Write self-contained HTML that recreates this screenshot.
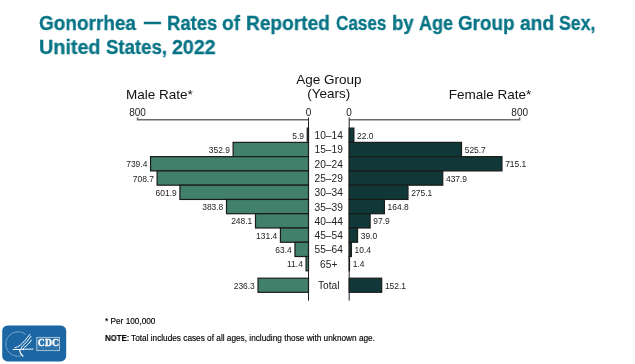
<!DOCTYPE html>
<html><head><meta charset="utf-8"><style>
html,body{margin:0;padding:0;background:#fff;width:635px;height:364px;overflow:hidden;}
body{position:relative;font-family:"Liberation Sans",sans-serif;}
.t{position:absolute;will-change:transform;font-weight:bold;color:#077486;font-size:20px;white-space:nowrap;line-height:22px;transform-origin:0 0;-webkit-text-stroke:0.3px #077486;}
.fn{position:absolute;left:105px;font-size:8.25px;color:#000;-webkit-text-stroke:0.15px #000;white-space:nowrap;line-height:9px;will-change:transform;}
svg{position:absolute;left:0;top:0;will-change:transform;}
</style></head><body>
<div class="t" style="left:38.74px;top:11.9px;transform:scaleX(0.949)">Gonorrhea</div>
<div class="t" style="left:143.7px;top:10.1px;transform:scaleX(0.84);-webkit-text-stroke:0.45px #077486">—</div>
<div class="t" style="left:167.25px;top:11.9px;transform:scaleX(0.924)">Rates</div>
<div class="t" style="left:222.44px;top:11.9px;transform:scaleX(0.956)">of</div>
<div class="t" style="left:246.21px;top:11.9px;transform:scaleX(0.955)">Reported</div>
<div class="t" style="left:335.92px;top:11.9px;transform:scaleX(0.855)">Cases</div>
<div class="t" style="left:391.89px;top:11.9px;transform:scaleX(0.927)">by</div>
<div class="t" style="left:418.75px;top:11.9px;transform:scaleX(0.899)">Age</div>
<div class="t" style="left:457.75px;top:11.9px;transform:scaleX(0.942)">Group</div>
<div class="t" style="left:519.82px;top:11.9px;transform:scaleX(0.963)">and</div>
<div class="t" style="left:559.47px;top:11.9px;transform:scaleX(0.885)">Sex,</div>
<div class="t" style="left:39.01px;top:35.6px;transform:scaleX(0.988)">United</div>
<div class="t" style="left:105.54px;top:35.6px;transform:scaleX(0.930)">States,</div>
<div class="t" style="left:171.71px;top:35.6px;transform:scaleX(0.983)">2022</div>
<svg width="635" height="364" viewBox="0 0 635 364" font-family="Liberation Sans, sans-serif" fill="#222">
<text x="126" y="99.3" font-size="13.5" fill="#111">Male Rate*</text>
<text x="531.3" y="98.9" font-size="13.5" text-anchor="end" fill="#111">Female Rate*</text>
<text x="328.8" y="84.1" font-size="13.5" text-anchor="middle" fill="#111">Age Group</text>
<text x="328.8" y="98.3" font-size="13.5" text-anchor="middle" fill="#111">(Years)</text>
<text x="137.6" y="115.8" font-size="10" text-anchor="middle" fill="#222">800</text>
<text x="308.5" y="115.8" font-size="10" text-anchor="middle" fill="#222">0</text>
<text x="349.0" y="115.8" font-size="10" text-anchor="middle" fill="#222">0</text>
<text x="519.7" y="115.8" font-size="10" text-anchor="middle" fill="#222">800</text>
<path d="M137.6 117.6 V119.8 H308.5 M349.2 119.8 H519.6 V117.6" stroke="#6a6a6a" stroke-width="1.6" fill="none"/>
<path d="M308.5 117.5 V300.7 M349.2 117.5 V300.7" stroke="#222" stroke-width="1" fill="none"/>
<rect x="307.24" y="128.10" width="1.26" height="14.27" fill="#41806a" stroke="#1a1a1a" stroke-width="1.2"/>
<rect x="349.20" y="128.10" width="4.70" height="14.27" fill="#113838" stroke="#1a1a1a" stroke-width="1.2"/>
<rect x="233.11" y="142.37" width="75.39" height="14.27" fill="#41806a" stroke="#1a1a1a" stroke-width="1.2"/>
<rect x="349.20" y="142.37" width="112.30" height="14.27" fill="#113838" stroke="#1a1a1a" stroke-width="1.2"/>
<rect x="150.55" y="156.64" width="157.95" height="14.27" fill="#41806a" stroke="#1a1a1a" stroke-width="1.2"/>
<rect x="349.20" y="156.64" width="152.76" height="14.27" fill="#113838" stroke="#1a1a1a" stroke-width="1.2"/>
<rect x="157.10" y="170.91" width="151.40" height="14.27" fill="#41806a" stroke="#1a1a1a" stroke-width="1.2"/>
<rect x="349.20" y="170.91" width="93.55" height="14.27" fill="#113838" stroke="#1a1a1a" stroke-width="1.2"/>
<rect x="179.92" y="185.18" width="128.58" height="14.27" fill="#41806a" stroke="#1a1a1a" stroke-width="1.2"/>
<rect x="349.20" y="185.18" width="58.77" height="14.27" fill="#113838" stroke="#1a1a1a" stroke-width="1.2"/>
<rect x="226.51" y="199.45" width="81.99" height="14.27" fill="#41806a" stroke="#1a1a1a" stroke-width="1.2"/>
<rect x="349.20" y="199.45" width="35.21" height="14.27" fill="#113838" stroke="#1a1a1a" stroke-width="1.2"/>
<rect x="255.50" y="213.72" width="53.00" height="14.27" fill="#41806a" stroke="#1a1a1a" stroke-width="1.2"/>
<rect x="349.20" y="213.72" width="20.91" height="14.27" fill="#113838" stroke="#1a1a1a" stroke-width="1.2"/>
<rect x="280.43" y="227.99" width="28.07" height="14.27" fill="#41806a" stroke="#1a1a1a" stroke-width="1.2"/>
<rect x="349.20" y="227.99" width="8.33" height="14.27" fill="#113838" stroke="#1a1a1a" stroke-width="1.2"/>
<rect x="294.96" y="242.26" width="13.54" height="14.27" fill="#41806a" stroke="#1a1a1a" stroke-width="1.2"/>
<rect x="349.20" y="242.26" width="2.22" height="14.27" fill="#113838" stroke="#1a1a1a" stroke-width="1.2"/>
<rect x="306.06" y="256.53" width="2.44" height="14.27" fill="#41806a" stroke="#1a1a1a" stroke-width="1.2"/>
<rect x="349.20" y="256.53" width="0.30" height="14.27" fill="#113838" stroke="#1a1a1a" stroke-width="1.2"/>
<rect x="258.02" y="278.20" width="50.48" height="14.10" fill="#41806a" stroke="#1a1a1a" stroke-width="1.2"/>
<rect x="349.20" y="278.20" width="32.49" height="14.10" fill="#113838" stroke="#1a1a1a" stroke-width="1.2"/>
<text x="0" y="138.83" text-anchor="end" font-size="9.6" transform="translate(304.04 0) scale(0.88 1)">5.9</text>
<text x="0" y="138.83" font-size="9.6" transform="translate(357.10 0) scale(0.88 1)">22.0</text>
<text x="0" y="139.23" text-anchor="middle" font-size="10.5" transform="translate(328.7 0) scale(0.97 1)">10–14</text>
<text x="0" y="153.10" text-anchor="end" font-size="9.6" transform="translate(229.91 0) scale(0.88 1)">352.9</text>
<text x="0" y="153.10" font-size="9.6" transform="translate(464.70 0) scale(0.88 1)">525.7</text>
<text x="0" y="153.50" text-anchor="middle" font-size="10.5" transform="translate(328.7 0) scale(0.97 1)">15–19</text>
<text x="0" y="167.37" text-anchor="end" font-size="9.6" transform="translate(147.35 0) scale(0.88 1)">739.4</text>
<text x="0" y="167.37" font-size="9.6" transform="translate(505.16 0) scale(0.88 1)">715.1</text>
<text x="0" y="167.77" text-anchor="middle" font-size="10.5" transform="translate(328.7 0) scale(0.97 1)">20–24</text>
<text x="0" y="181.64" text-anchor="end" font-size="9.6" transform="translate(153.90 0) scale(0.88 1)">708.7</text>
<text x="0" y="181.64" font-size="9.6" transform="translate(445.95 0) scale(0.88 1)">437.9</text>
<text x="0" y="182.04" text-anchor="middle" font-size="10.5" transform="translate(328.7 0) scale(0.97 1)">25–29</text>
<text x="0" y="195.91" text-anchor="end" font-size="9.6" transform="translate(176.72 0) scale(0.88 1)">601.9</text>
<text x="0" y="195.91" font-size="9.6" transform="translate(411.17 0) scale(0.88 1)">275.1</text>
<text x="0" y="196.31" text-anchor="middle" font-size="10.5" transform="translate(328.7 0) scale(0.97 1)">30–34</text>
<text x="0" y="210.18" text-anchor="end" font-size="9.6" transform="translate(223.31 0) scale(0.88 1)">383.8</text>
<text x="0" y="210.18" font-size="9.6" transform="translate(387.61 0) scale(0.88 1)">164.8</text>
<text x="0" y="210.58" text-anchor="middle" font-size="10.5" transform="translate(328.7 0) scale(0.97 1)">35–39</text>
<text x="0" y="224.45" text-anchor="end" font-size="9.6" transform="translate(252.30 0) scale(0.88 1)">248.1</text>
<text x="0" y="224.45" font-size="9.6" transform="translate(373.31 0) scale(0.88 1)">97.9</text>
<text x="0" y="224.85" text-anchor="middle" font-size="10.5" transform="translate(328.7 0) scale(0.97 1)">40–44</text>
<text x="0" y="238.72" text-anchor="end" font-size="9.6" transform="translate(277.23 0) scale(0.88 1)">131.4</text>
<text x="0" y="238.72" font-size="9.6" transform="translate(360.73 0) scale(0.88 1)">39.0</text>
<text x="0" y="239.12" text-anchor="middle" font-size="10.5" transform="translate(328.7 0) scale(0.97 1)">45–54</text>
<text x="0" y="252.99" text-anchor="end" font-size="9.6" transform="translate(291.76 0) scale(0.88 1)">63.4</text>
<text x="0" y="252.99" font-size="9.6" transform="translate(354.62 0) scale(0.88 1)">10.4</text>
<text x="0" y="253.39" text-anchor="middle" font-size="10.5" transform="translate(328.7 0) scale(0.97 1)">55–64</text>
<text x="0" y="267.26" text-anchor="end" font-size="9.6" transform="translate(302.86 0) scale(0.88 1)">11.4</text>
<text x="0" y="267.26" font-size="9.6" transform="translate(352.70 0) scale(0.88 1)">1.4</text>
<text x="0" y="267.66" text-anchor="middle" font-size="10.5" transform="translate(328.7 0) scale(0.97 1)">65+</text>
<text x="0" y="288.85" text-anchor="end" font-size="9.6" transform="translate(254.82 0) scale(0.88 1)">236.3</text>
<text x="0" y="288.85" font-size="9.6" transform="translate(384.89 0) scale(0.88 1)">152.1</text>
<text x="0" y="289.25" text-anchor="middle" font-size="10.5" transform="translate(328.7 0) scale(0.97 1)">Total</text>
</svg>
<div class="fn" style="top:317.2px">* Per 100,000</div>
<div class="fn" style="top:334.1px;left:104.6px;font-weight:bold;transform:scaleX(0.942);transform-origin:0 0">NOTE:</div>
<div class="fn" style="top:334.1px;left:130.9px;">Total includes cases of all ages, including those with unknown age.</div>
<svg width="70" height="42" style="left:0;top:322px" viewBox="0 322 70 42">
<defs><pattern id="hatch" width="2" height="2" patternUnits="userSpaceOnUse" patternTransform="rotate(-35)"><rect width="2" height="0.8" fill="#ffffff" fill-opacity="0.22"/></pattern></defs>
<rect x="2.2" y="325.5" width="64" height="35.9" rx="5.5" fill="#1c67a3"/>
<path d="M25.8 334.6 A12.2 12.2 0 1 0 21.2 355.8" fill="none" stroke="#fff" stroke-opacity="0.7" stroke-width="1" stroke-dasharray="0.7 0.5"/>
<g fill="none" stroke="#fff" stroke-linecap="round" stroke-linejoin="round">
<path d="M29.9 334.4 C27 338, 23 343, 20.5 345 C18.5 346.5, 16.5 347.3, 14.8 347.8" stroke-width="1"/>
<path d="M30.9 336.4 C28.5 340, 25 344, 22.5 346 C21.5 347, 21 348, 21.2 349.3" stroke-width="1"/>
<path d="M31.4 340.1 C29.8 342.8, 27 345.5, 24.5 347.2 C23.5 348, 23.2 348.8, 23.5 349.8" stroke-width="1"/>
<path d="M13.2 349.6 C17 349.8, 21 349.2, 24.5 349.2 C27 349.2, 30 349.2, 33 349.1" stroke-width="1"/>
<path d="M19.6 350.3 C20 352.5, 20.8 354.5, 23 356.2" stroke-width="1.2"/>
</g>
<rect x="36.3" y="336.9" width="23.7" height="14.2" fill="url(#hatch)"/>
<rect x="36.8" y="337.4" width="22.7" height="13.2" fill="none" stroke="#fff" stroke-opacity="0.6" stroke-width="0.9"/>
<text x="48.4" y="346.3" font-family="Liberation Serif, serif" font-weight="bold" font-size="10.8" text-anchor="middle" fill="#fff" stroke="#fff" stroke-width="0.35" transform="translate(48.4 0) scale(0.9 1) translate(-48.4 0)">CDC</text>
</svg>
</body></html>
